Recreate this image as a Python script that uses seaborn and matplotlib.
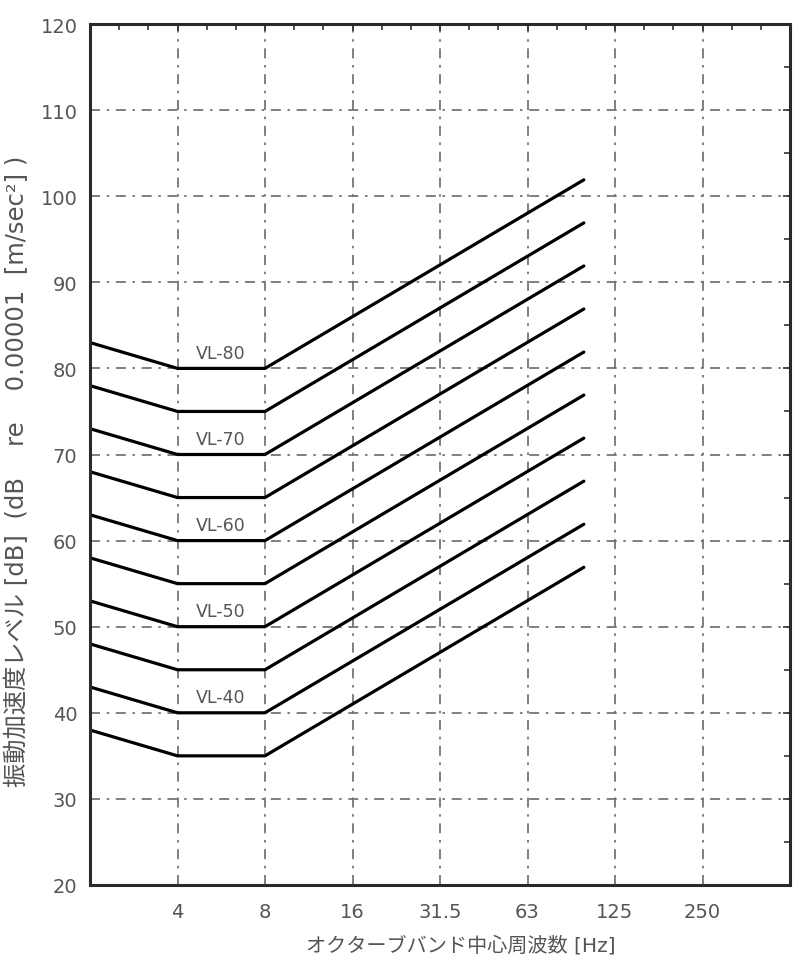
import numpy as np
import pandas as pd
import matplotlib
matplotlib.use("Agg")
import matplotlib.pyplot as plt
import seaborn as sns
from matplotlib.ticker import FixedLocator, NullFormatter

# ---- data ----
freqs = [2, 4, 8, 100]
vl35 = [38, 35, 35, 56.9]
vl40 = [43, 40, 40, 61.9]
vl45 = [48, 45, 45, 66.9]
vl50 = [53, 50, 50, 71.9]
vl55 = [58, 55, 55, 76.9]
vl60 = [63, 60, 60, 81.9]
vl65 = [68, 65, 65, 86.9]
vl70 = [73, 70, 70, 91.9]
vl75 = [78, 75, 75, 96.9]
vl80 = [83, 80, 80, 101.9]
curve_names = ["VL-35", "VL-40", "VL-45", "VL-50", "VL-55",
               "VL-60", "VL-65", "VL-70", "VL-75", "VL-80"]
curves = [vl35, vl40, vl45, vl50, vl55, vl60, vl65, vl70, vl75, vl80]
label_names = ["VL-40", "VL-50", "VL-60", "VL-70", "VL-80"]
label_levels = [40, 50, 60, 70, 80]
xtick_labels = ["4", "8", "16", "31.5", "63", "125", "250"]
xtick_pos = [4, 8, 16, 32, 64, 128, 256]

rows = []
for name, vals in zip(curve_names, curves):
    for f, v in zip(freqs, vals):
        rows.append({"curve": name, "freq": f, "level": v})
df = pd.DataFrame(rows)

sns.set_theme(style="white")
plt.rcParams["font.family"] = ["DejaVu Sans", "Noto Sans CJK JP"]

fig = plt.figure(figsize=(8, 9.78), dpi=100)
ax = fig.add_axes([90/800, 92/978, 700/800, 861/978])

sns.lineplot(data=df, x="freq", y="level", units="curve", estimator=None,
             color="black", linewidth=2.3, ax=ax, legend=False)

ax.set_xscale("log", base=2)
ax.set_xlim(2, 512)
ax.set_ylim(20, 120)

ax.xaxis.set_major_locator(FixedLocator(xtick_pos))
ax.set_xticklabels(xtick_labels)
minor_x = [2 ** (k + j / 3) for k in range(1, 9) for j in (1, 2)]
ax.xaxis.set_minor_locator(FixedLocator(minor_x))
ax.xaxis.set_minor_formatter(NullFormatter())
ax.set_yticks(np.arange(20, 121, 10))
ax.yaxis.set_minor_locator(FixedLocator(np.arange(25, 120, 10)))

ax.grid(True, which="major", linestyle=(0, (6, 4, 1.5, 4)), color="#6a6a6a",
        linewidth=1.2)
ax.tick_params(axis="both", which="both", direction="in", top=True, right=True,
               colors="#333333", labelcolor="#555555", labelsize=14)
ax.tick_params(axis="y", which="major", length=5, width=1.2, pad=9)
ax.tick_params(axis="x", which="major", length=5, width=1.2, pad=12)
ax.tick_params(axis="both", which="minor", length=4, width=1.2)
for s in ax.spines.values():
    s.set_color("#2a2a2a")
    s.set_linewidth(2.2)
    s.set_visible(True)

for name, lvl in zip(label_names, label_levels):
    ax.text(5.65, lvl + 1.8, name, ha="center", va="center",
            fontsize=12.5, color="#555555")

fam = ["DejaVu Sans", "Noto Sans CJK JP"]
ax.set_ylabel("振動加速度レベル [dB]  (dB    re    0.00001  [m/sec²] )",
              family=fam, fontsize=17.5, color="#555555", va="center")
ax.yaxis.set_label_coords(-0.104, 0.482)
ax.set_xlabel("オクターブバンド中心周波数 [Hz]", family=fam,
              fontsize=14.5, color="#555555", va="center")
ax.xaxis.set_label_coords(0.53, -0.069)

fig.savefig("out.png", dpi=100, facecolor="white")
